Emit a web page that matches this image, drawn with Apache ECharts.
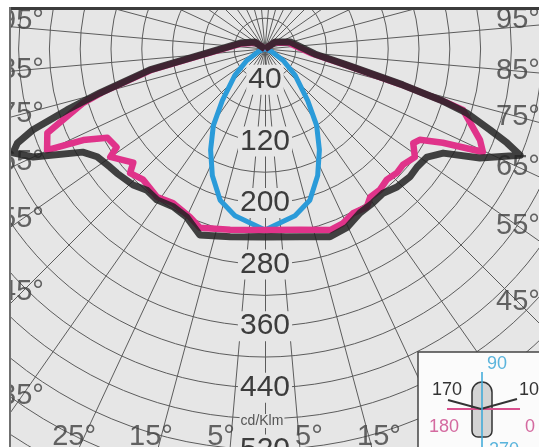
<!DOCTYPE html>
<html><head><meta charset="utf-8">
<script src="https://cdn.jsdelivr.net/npm/echarts@6/dist/echarts.min.js"></script>
<style>html,body{margin:0;padding:0;background:#fff}#c{width:539px;height:447px}</style>
</head><body><div id="c"></div>
<script>
// ---- Data (cd/klm vs angle from nadir, degrees) ----
// Black curve, C0 plane (right half)
const blackC0Angle = [0, 10.5, 19.1, 24.7, 30.1, 35.0, 39.3, 43.7, 48.6, 52.2, 56.3, 59.7, 63.1, 67.4, 68.8, 70.2, 72.4, 73.8, 75.4, 79.0, 84.3, 105.6, 125, 180];
const blackC0Value = [244, 248, 258, 255, 246, 244, 242, 248, 251, 250, 253, 268, 313, 359, 337, 311, 275, 237, 185, 108, 65, 34, 16, 0];
// Black curve, C180 plane (left half)
const blackC180Angle = [0, 10.5, 19.3, 24.9, 30.2, 35.6, 39.9, 44.1, 50.0, 52.7, 57.3, 60.5, 65.0, 67.6, 69.2, 70.8, 72.9, 75.1, 79.7, 84.7, 103.5, 125, 180];
const blackC180Value = [244, 248, 256, 241, 237, 241, 239, 246, 251, 253, 259, 272, 332, 354, 344, 319, 269, 222, 152, 85, 33, 16, 0];
// Magenta curve, C0 plane
const magentaC0Angle = [0, 10.9, 19.8, 24.1, 28.2, 32.8, 35.4, 39.2, 43.0, 46.8, 50.0, 54.2, 57.6, 59.6, 62.2, 64.7, 67.1, 72.9, 73.6, 75.4, 79.0, 84.3, 105.6, 125, 180];
const magentaC0Value = [235, 239, 250, 248, 242, 244, 236, 236, 232, 235, 234, 240, 228, 233, 261, 313, 303, 269, 244, 182, 105, 62, 31, 14, 0];
// Magenta curve, C180 plane
const magentaC180Angle = [0, 10.9, 20.0, 24.1, 30.9, 36.1, 43.0, 47.4, 49.2, 55.1, 56.5, 60.6, 63.4, 65.1, 68.9, 73.5, 75.1, 79.7, 84.7, 103.5, 125, 180];
const magentaC180Value = [235, 239, 247, 239, 233, 238, 232, 238, 226, 245, 231, 235, 264, 312, 303, 246, 219, 149, 82, 31, 14, 0];
// Blue curve, C90 / C270 plane (symmetric)
const blueAngle = [0, 10.2, 16.5, 22.6, 28.3, 34.0, 39.6, 48.9, 57.7, 70, 90];
const blueValue = [235, 220, 205, 178, 149, 120, 87, 52, 28, 8, 0];
// Tick labels
const radiusLabels = [40, 120, 200, 280, 360, 440, 520];
const leftAngleLabels = [5, 15, 25, 35, 45, 55, 65, 75, 85, 95];
const rightAngleLabels = [5, 15, 45, 55, 65, 75, 85, 95];

// ---- Layout ----
const CX = 265, CY = 49, K = 0.77, RMAX = 640;
const BG = '#e6e6e6';

function curve(leftA, leftV, rightA, rightV) {
  const pts = [];
  for (let i = leftA.length - 1; i >= 0; i--) pts.push([leftV[i], 360 - leftA[i]]);
  for (let i = 0; i < rightA.length; i++) pts.push([rightV[i], rightA[i]]);
  return pts;
}

function edge(gamma, side) {
  const g = gamma * Math.PI / 180;
  const dx = side * Math.sin(g), dy = Math.cos(g);
  let t = Infinity, bottom = false;
  if (dx > 1e-6) t = Math.min(t, (518 - CX) / dx);
  if (dx < -1e-6) t = Math.min(t, (22 - CX) / dx);
  if (dy > 1e-6) { const tb = (437 - CY) / dy; if (tb < t) { t = tb; bottom = true; } }
  return { r: t / K, bottom };
}

const labelData = [];
[[leftAngleLabels, -1], [rightAngleLabels, 1]].forEach(([arr, side]) => {
  arr.forEach(a => {
    const e = edge(a, side);
    let off = [0, 0];
    if (e.bottom) off = [side * 10, 0];
    if (a > 90) off = [0, -7];
    labelData.push({ name: a + '°', value: [e.r, side > 0 ? a : 360 - a], label: { offset: off } });
  });
});

const gridLine = { color: '#5c5c5c', width: 1 };
const chart = echarts.init(document.getElementById('c'));
chart.setOption({
  backgroundColor: BG,
  animation: false,
  polar: [
    { center: [CX, CY], radius: RMAX * K },
    { center: [CX, CY], radius: RMAX * K }
  ],
  angleAxis: [
    { polarIndex: 0, type: 'value', min: -5, max: 355, interval: 10, startAngle: -95, clockwise: false,
      axisLine: { show: false }, axisTick: { show: false }, axisLabel: { show: false },
      splitLine: { show: true, lineStyle: gridLine } },
    { polarIndex: 1, type: 'value', min: 0, max: 360, startAngle: -90, clockwise: false,
      axisLine: { show: false }, axisTick: { show: false }, axisLabel: { show: false },
      splitLine: { show: false } }
  ],
  radiusAxis: [
    { polarIndex: 0, type: 'value', min: 0, max: RMAX, show: false },
    { polarIndex: 1, type: 'value', min: 0, max: RMAX, interval: 40,
      axisLine: { show: true, lineStyle: gridLine }, axisTick: { show: false },
      splitLine: { show: true, lineStyle: gridLine },
      axisLabel: {
        margin: 0, align: 'center', verticalAlign: 'middle',
        formatter: v => radiusLabels.indexOf(v) >= 0 ? '{a|' + v + '}' : '',
        rich: { a: { fontSize: 30, fontFamily: 'Liberation Sans', color: '#3c3c3c', backgroundColor: BG, padding: [0, 2], align: 'center', verticalAlign: 'middle' } }
      } }
  ],
  series: [
    { type: 'scatter', coordinateSystem: 'polar', polarIndex: 1, z: 1, symbolSize: 1,
      itemStyle: { color: 'rgba(0,0,0,0)' }, silent: true,
      label: { show: true, position: 'inside', formatter: '{b}', fontSize: 29, fontFamily: 'Liberation Sans', color: '#404040' },
      data: labelData },
    { type: 'line', coordinateSystem: 'polar', polarIndex: 1, z: 3, symbol: 'none', smooth: false,
      lineStyle: { color: '#2b9bd9', width: 5, join: 'round' },
      data: curve(blueAngle, blueValue, blueAngle, blueValue) },
    { type: 'line', coordinateSystem: 'polar', polarIndex: 1, z: 4, symbol: 'none',
      lineStyle: { color: '#e0338a', width: 6.5, join: 'round' },
      data: curve(magentaC180Angle, magentaC180Value, magentaC0Angle, magentaC0Value) },
    { type: 'line', coordinateSystem: 'polar', polarIndex: 1, z: 5, symbol: 'none',
      lineStyle: { color: '#222222', width: 7, opacity: 0.85, join: 'round' },
      data: curve(blackC180Angle, blackC180Value, blackC0Angle, blackC0Value) }
  ],
  graphic: [
    { type: 'text', z: 50, style: { text: 'cd/Klm', x: 262, y: 421, align: 'center', verticalAlign: 'middle', font: '14px "Liberation Sans"', fill: '#555', backgroundColor: BG, padding: [0, 1] } },
    // frame
    { type: 'rect', z: 90, shape: { x: 0, y: 0, width: 539, height: 8 }, style: { fill: '#fff' } },
    { type: 'rect', z: 90, shape: { x: 0, y: 0, width: 9, height: 447 }, style: { fill: '#fff' } },
    { type: 'rect', z: 91, shape: { x: 9, y: 7, width: 530, height: 3 }, style: { fill: '#3c3c3c' } },
    { type: 'rect', z: 91, shape: { x: 9, y: 7, width: 2, height: 440 }, style: { fill: '#707070' } },
    // legend inset
    { type: 'rect', z: 100, shape: { x: 418, y: 352, width: 130, height: 110 }, style: { fill: '#fbfbfb', stroke: '#444', lineWidth: 1.5 } },
    { type: 'rect', z: 101, shape: { x: 472, y: 382, width: 20, height: 55, r: [10, 10, 6, 6] }, style: { fill: '#d4d4d4', stroke: '#333', lineWidth: 1.5 } },
    { type: 'polyline', z: 102, shape: { points: [[447, 409], [520, 409]] }, style: { stroke: '#d9508e', lineWidth: 2 } },
    { type: 'polyline', z: 103, shape: { points: [[448, 400], [481, 409], [517, 399]] }, style: { stroke: '#333', lineWidth: 2, fill: null } },
    { type: 'polyline', z: 104, shape: { points: [[482, 372], [482, 447]] }, style: { stroke: '#3aa8d8', lineWidth: 1.5 } },
    { type: 'text', z: 105, style: { text: '90', x: 497, y: 364, align: 'center', verticalAlign: 'middle', font: '18px "Liberation Sans"', fill: '#5ab4dc' } },
    { type: 'text', z: 105, style: { text: '170', x: 447, y: 390, align: 'center', verticalAlign: 'middle', font: '18px "Liberation Sans"', fill: '#333' } },
    { type: 'text', z: 105, style: { text: '10', x: 529, y: 390, align: 'center', verticalAlign: 'middle', font: '18px "Liberation Sans"', fill: '#333' } },
    { type: 'text', z: 105, style: { text: '180', x: 444, y: 427, align: 'center', verticalAlign: 'middle', font: '18px "Liberation Sans"', fill: '#d46aa0' } },
    { type: 'text', z: 105, style: { text: '0', x: 530, y: 427, align: 'center', verticalAlign: 'middle', font: '18px "Liberation Sans"', fill: '#d46aa0' } },
    { type: 'text', z: 105, style: { text: '270', x: 504, y: 450, align: 'center', verticalAlign: 'middle', font: '18px "Liberation Sans"', fill: '#5ab4dc' } }
  ]
});
</script></body></html>
